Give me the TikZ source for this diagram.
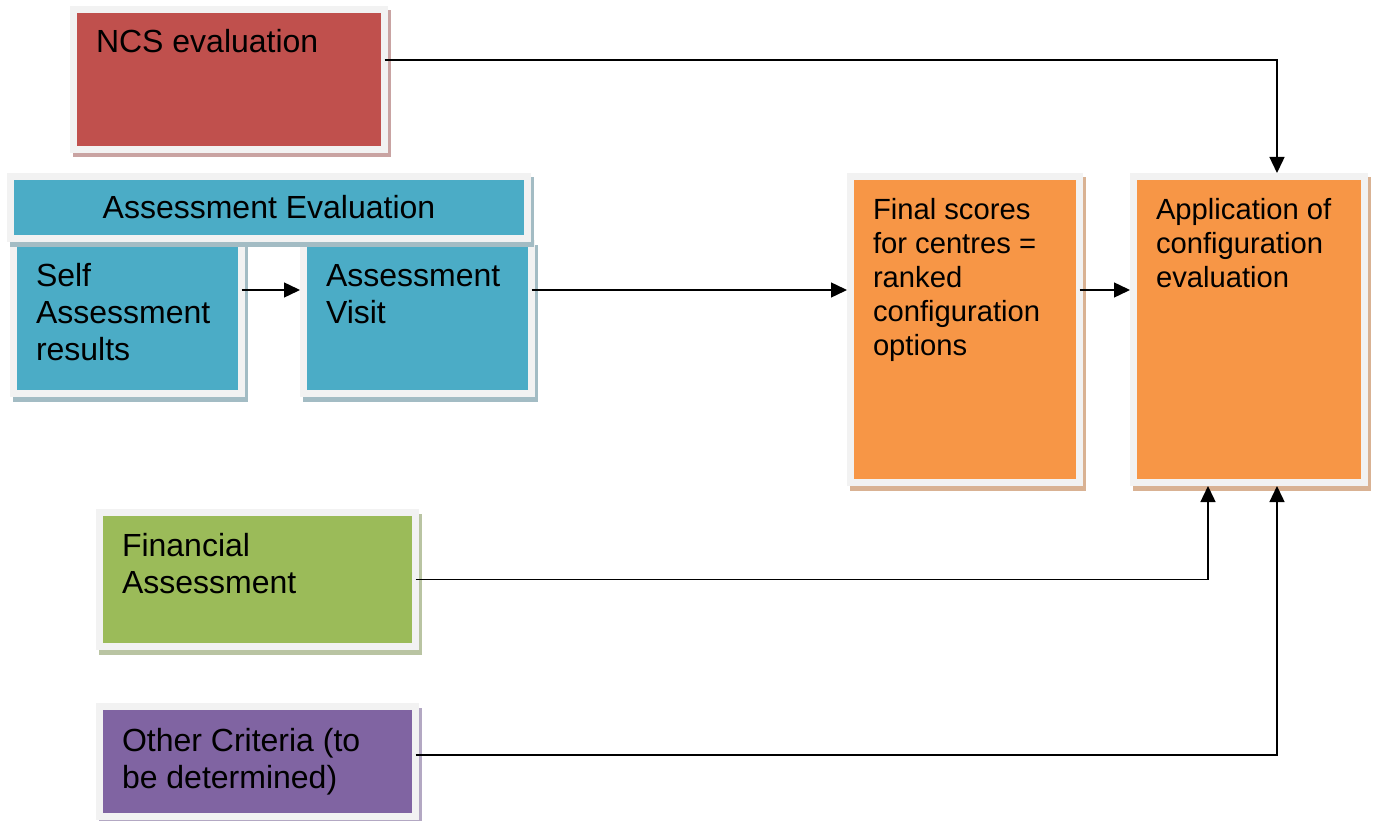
\documentclass[tikz,border=0pt]{standalone}
\usepackage{fontspec}
\setmainfont{Liberation Sans}
\usetikzlibrary{arrows.meta,shadows}

\definecolor{frame}{HTML}{F2F2F2}
\definecolor{ncsfill}{HTML}{C0504D}
\definecolor{ncsshade}{HTML}{C9A3A2}
\definecolor{tealfill}{HTML}{4BACC6}
\definecolor{tealshade}{HTML}{A3BCC4}
\definecolor{orangefill}{HTML}{F79646}
\definecolor{orangeshade}{HTML}{D9B293}
\definecolor{greenfill}{HTML}{9BBB59}
\definecolor{greenshade}{HTML}{B9C4A2}
\definecolor{purplefill}{HTML}{8064A2}
\definecolor{purpleshade}{HTML}{B3A8C3}

% width, height, first baseline below the top edge, text
\newcommand{\panelbody}[4]{%
  \parbox[c][#2][t]{#1}{\raggedright\leftskip=22.5pt\rule{0pt}{#3}#4}}

\tikzset{
  panel/.style 2 args={draw=frame, line width=7pt, fill=#1, inner sep=0pt,
    outer sep=0pt, anchor=north west,
    drop shadow={shadow xshift=3pt, shadow yshift=-4.5pt, opacity=1,
      fill=#2, draw=#2, line width=7pt}},
  big/.style={font=\fontsize{32pt}{37pt}\selectfont},
  mid/.style={font=\fontsize{29.2pt}{34pt}\selectfont},
  link/.style={line width=1.4pt, -{Triangle[length=16pt,width=15pt]},
    shorten >=3.5pt},
}

\begin{document}
\begin{tikzpicture}[x=1pt,y=-1pt]
\useasboundingbox (0,0) rectangle (1373,821);

\node[panel={ncsfill}{ncsshade}, big] (ncs) at (73.5,9.5)
  {\panelbody{311pt}{140pt}{43.5pt}{NCS evaluation}};

\node[panel={tealfill}{tealshade}, big] (self) at (13.5,243.5)
  {\panelbody{228pt}{150pt}{42.5pt}{Self\\Assessment\\results}};
\node[panel={tealfill}{tealshade}, big] (visit) at (303.5,243.5)
  {\panelbody{228pt}{150pt}{42.5pt}{Assessment\\Visit}};
\node[panel={tealfill}{tealshade}, big, minimum width=517pt,
  minimum height=62pt] (ae) at (10.5,176.5) {Assessment Evaluation};

\node[panel={orangefill}{orangeshade}, mid] (final) at (850.5,176.5)
  {\panelbody{229pt}{306pt}{42.5pt}{Final scores\\for centres =\\ranked\\configuration\\options}};
\node[panel={orangefill}{orangeshade}, mid] (app) at (1133.5,176.5)
  {\panelbody{231pt}{306pt}{42.5pt}{Application of\\configuration\\evaluation}};

\node[panel={greenfill}{greenshade}, big] (fin) at (99.5,512.5)
  {\panelbody{316pt}{134pt}{43.5pt}{Financial\\Assessment}};
\node[panel={purplefill}{purpleshade}, big] (oth) at (99.5,706.5)
  {\panelbody{316pt}{110pt}{44.5pt}{Other Criteria (to\\be determined)}};

% rows and columns used by the connectors
\coordinate (row) at (0,290);
\coordinate (ncsrow) at (0,60);
\coordinate (othrow) at (0,755);
\coordinate (outercol) at (1277,0);
\coordinate (innercol) at (1208,0);

\draw[link] (self.east |- row) -- (visit.west |- row);
\draw[link] (visit.east |- row) -- (final.west |- row);
\draw[link] (final.east |- row) -- (app.west |- row);
\draw[link] (ncs.east |- ncsrow) -| (app.north -| outercol);
\draw[link] (fin.east) -| (app.south -| innercol);
\draw[link] (oth.east |- othrow) -| (app.south -| outercol);
\end{tikzpicture}
\end{document}
